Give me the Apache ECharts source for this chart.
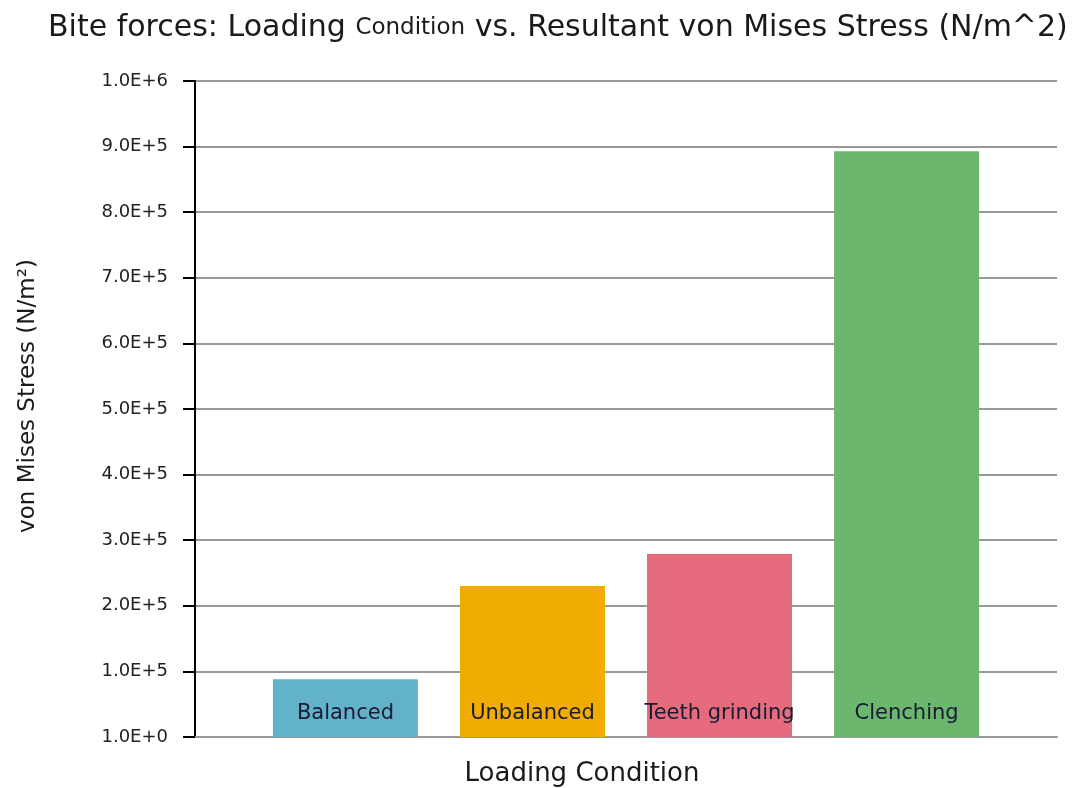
<!DOCTYPE html>
<html><head><meta charset="utf-8">
<script src="https://cdn.jsdelivr.net/npm/echarts@6/dist/echarts.min.js"></script>
<style>html,body{margin:0;padding:0;background:#fff}#c{width:1073px;height:788px}</style>
</head><body><div id="c"></div>
<script>
const seriesNames = ['Balanced', 'Unbalanced', 'Teeth grinding', 'Clenching'];
const seriesValues = [88000, 230000, 279000, 893000];
const seriesColors = ['#62B2CA', '#F0AC00', '#E56B7D', '#6BB76D'];
const yTickLabels = ['1.0E+0','1.0E+5','2.0E+5','3.0E+5','4.0E+5','5.0E+5','6.0E+5','7.0E+5','8.0E+5','9.0E+5','1.0E+6'];
const categories = [''];

const FONT = '"DejaVu Sans", sans-serif';
const chart = echarts.init(document.getElementById('c'));
chart.setOption({
  animation: false,
  title: {
    text: '{a|Bite forces: Loading }{b|Condition}{a| vs. Resultant von Mises Stress (N/m^2)}',
    left: 43, top: 8,
    textStyle: {
      rich: {
        a: { fontFamily: FONT, fontSize: 30, fontWeight: 'normal', color: '#1a1a1a' },
        b: { fontFamily: FONT, fontSize: 23, fontWeight: 'normal', color: '#1a1a1a' }
      }
    }
  },
  grid: { left: 195, right: 16, top: 81, bottom: 51, outerBoundsMode: 'none', containLabel: false },
  xAxis: {
    type: 'category', data: categories,
    name: 'Loading Condition', nameLocation: 'middle', nameGap: 24,
    nameTextStyle: { fontFamily: FONT, fontSize: 26, color: '#1a1a1a', padding: [0, 88, 0, 0] },
    axisLine: { lineStyle: { color: '#999', width: 2 } },
    axisTick: { show: false }, axisLabel: { show: false }
  },
  yAxis: {
    type: 'value', min: 0, max: 1000000, interval: 100000,
    name: 'von Mises Stress (N/m²)', nameLocation: 'middle', nameGap: 155, nameRotate: 90,
    nameTextStyle: { fontFamily: FONT, fontSize: 23, color: '#1a1a1a', padding: [0, 0, 0, 26] },
    axisLine: { show: true, lineStyle: { color: '#000', width: 2 } },
    axisTick: { show: true, length: 12, lineStyle: { color: '#000', width: 2 } },
    axisLabel: {
      fontFamily: FONT, fontSize: 18, color: '#222', margin: 27,
      formatter: v => yTickLabels[Math.round(v / 100000)]
    },
    splitLine: { lineStyle: { color: '#999', width: 2 } }
  },
  series: seriesNames.map((n, i) => ({
    type: 'bar', name: n, data: [seriesValues[i]],
    barWidth: 145, barGap: '29%',
    itemStyle: { color: seriesColors[i] },
    label: {
      show: true, position: 'insideBottom', distance: 13,
      formatter: n, fontFamily: FONT, fontSize: 21, color: '#1a1a33'
    }
  }))
});
</script></body></html>
